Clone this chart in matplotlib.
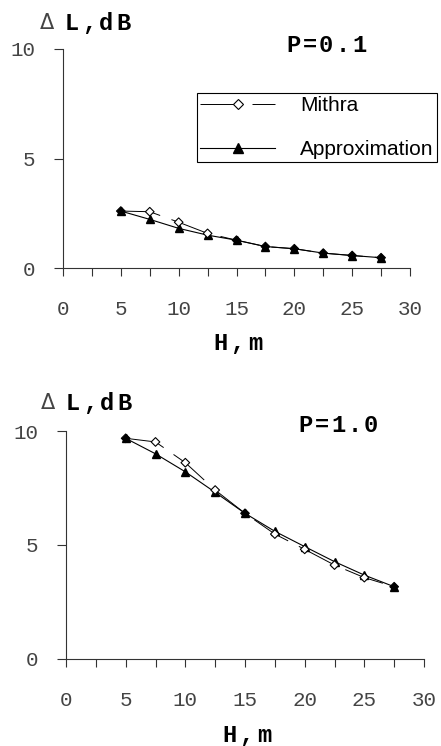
import matplotlib
matplotlib.use("Agg")
import matplotlib.pyplot as plt
from matplotlib.lines import Line2D
from matplotlib.ticker import MultipleLocator

H = [5, 7.5, 10, 12.5, 15, 17.5, 20, 22.5, 25, 27.5]
mithra_p01 = [2.6, 2.57, 2.09, 1.58, 1.27, 0.98, 0.88, 0.68, 0.57, 0.47]
approx_p01 = [2.6, 2.22, 1.81, 1.50, 1.27, 0.98, 0.88, 0.68, 0.57, 0.47]
mithra_p10 = [9.68, 9.52, 8.61, 7.41, 6.39, 5.48, 4.81, 4.12, 3.57, 3.17]
approx_p10 = [9.68, 9.00, 8.21, 7.31, 6.39, 5.60, 4.93, 4.27, 3.68, 3.17]
yticks = [0, 5, 10]
xticks = [0, 5, 10, 15, 20, 25, 30]
titles = ["P=0.1", "P=1.0"]
ylabel = "L,dB"
xlabel = "H,m"

W, Hpx = 441, 746
fig = plt.figure(figsize=(W / 100, Hpx / 100), dpi=100)

mono = "Liberation Mono"
dash = (0, (40 * 0.72 / 0.7, 12 * 0.72 / 0.7))
axcol = "#333333"


def px_axes(l, r, t, b):
    return fig.add_axes([l / W, 1 - b / Hpx, (r - l) / W, (b - t) / Hpx])


def spaced(xc_first, y, s, adv, **kw):
    for k, ch in enumerate(s):
        fig.text((xc_first + k * adv) / W, 1 - y / Hpx, ch, ha="center",
                 va="center", **kw)


axes = [px_axes(63, 410, 49, 268), px_axes(66, 424, 431, 659)]
data = [(mithra_p01, approx_p01), (mithra_p10, approx_p10)]

dsize = 4.2
for i, (ax, (m, a)) in enumerate(zip(axes, data)):
    ax.set_xlim(0, 30)
    ax.set_ylim(0, 10)
    for s in ["top", "right"]:
        ax.spines[s].set_visible(False)
    for s in ["left", "bottom"]:
        ax.spines[s].set_linewidth(0.8)
        ax.spines[s].set_color(axcol)
    ax.set_xticks(xticks)
    ax.xaxis.set_minor_locator(MultipleLocator(2.5))
    ax.set_yticks(yticks)
    ax.tick_params(axis="x", which="both", direction="out", length=6,
                   width=0.8, color=axcol, pad=17, labelsize=15)
    ax.tick_params(axis="y", which="both", direction="out", length=6.5,
                   width=0.8, color=axcol, pad=13.5, labelsize=15)
    for lab in ax.get_xticklabels() + ax.get_yticklabels():
        lab.set_fontfamily(mono)
        lab.set_color("#444444")
    ax.patch.set_alpha(0)
    ax.plot(H, m, color="black", lw=0.7, linestyle=dash, zorder=3)
    ax.plot(H, a, color="black", lw=0.8, marker="^", markersize=5.5,
            markerfacecolor="black", markeredgecolor="black", zorder=4)
    fc = ["black" if abs(mv - av) < 1e-9 else "white" for mv, av in zip(m, a)]
    ax.scatter(H, m, marker="D", s=(dsize * 1.05) ** 2, facecolors=fc,
               edgecolors="black", linewidths=0.8, zorder=5)
    if i == 0:
        lm = Line2D([], [], color="black", lw=0.7, linestyle=dash, marker="D",
                    markersize=dsize, markerfacecolor="white",
                    markeredgecolor="black", markeredgewidth=0.8)
        la = Line2D([], [], color="black", lw=0.8, marker="^", markersize=5.5,
                    markerfacecolor="black", markeredgecolor="black")
        leg = ax.legend(handles=[lm, la], labels=["Mithra", "Approximation"],
                        loc="upper left",
                        bbox_to_anchor=(197 / W, 1 - 93 / Hpx),
                        bbox_transform=fig.transFigure,
                        frameon=True, fancybox=False, framealpha=1,
                        edgecolor="black",
                        prop={"family": "Liberation Sans", "size": 15},
                        handlelength=3.6, handletextpad=1.2,
                        labelspacing=1.2, borderpad=0.15, borderaxespad=0,
                        markerscale=1.2)
        leg.get_frame().set_linewidth(0.8)
        leg.set_zorder(10)

bold = dict(fontfamily=mono, fontweight="bold", fontsize=17, color="black")
delta = dict(fontfamily="DejaVu Sans", fontsize=15, ha="center",
             va="center", color="#444444")

# top panel annotations
fig.text(47 / W, 1 - 23 / Hpx, "Δ", **delta)
spaced(72, 24, ylabel, 17, **bold)
spaced(293, 45, titles[0], 16.5, **bold)
spaced(220, 344, xlabel, 17.5, **bold)

# bottom panel annotations
fig.text(48 / W, 1 - 403 / Hpx, "Δ", **delta)
spaced(73, 404, ylabel, 17, **bold)
spaced(305, 425, titles[1], 16.5, **bold)
spaced(229, 735, xlabel, 17.5, **bold)

fig.savefig("out.png", dpi=100)
